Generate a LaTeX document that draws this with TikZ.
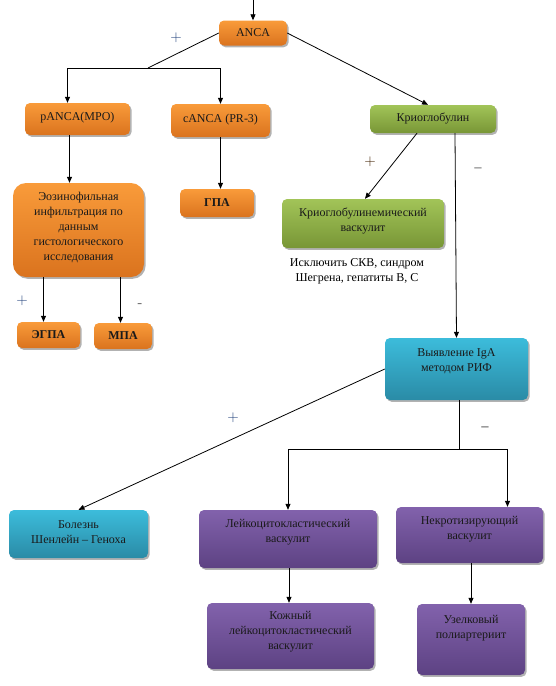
\documentclass[tikz,border=0pt]{standalone}
\usepackage{fontspec}
\setmainfont{Liberation Serif}
\usetikzlibrary{shadows,arrows.meta}
\definecolor{oTop}{HTML}{F99B3A}
\definecolor{oBot}{HTML}{DA731E}
\definecolor{gTop}{HTML}{A2C458}
\definecolor{gBot}{HTML}{789636}
\definecolor{bTop}{HTML}{3CBCDB}
\definecolor{bBot}{HTML}{2A8BA6}
\definecolor{pTop}{HTML}{8262AC}
\definecolor{pBot}{HTML}{5D4283}
\definecolor{signblue}{HTML}{1F3F7A}
\definecolor{txt}{HTML}{1A1A1A}
\tikzset{
  basebox/.style={rounded corners=5pt, inner sep=0pt, draw=none,
    drop shadow={shadow xshift=1.6pt, shadow yshift=-1.8pt, fill=black, opacity=0.3}},
  obox/.style={basebox, top color=oTop, bottom color=oBot},
  gbox/.style={basebox, top color=gTop, bottom color=gBot},
  bbox/.style={basebox, top color=bTop, bottom color=bBot},
  pbox/.style={basebox, top color=pTop, bottom color=pBot},
  lbl/.style={font=\fontsize{12}{15}\selectfont, text=txt, align=center, inner sep=0pt},
  sign/.style={font=\fontfamily{lmss}\fontsize{15}{16}\selectfont, inner sep=0pt},
  conn/.style={line width=0.8pt, black},
  arr/.style={conn, -{Triangle[length=6pt,width=5pt]}}
}
\begin{document}
\begin{tikzpicture}[x=1pt,y=-1pt]
\useasboundingbox (0,0) rectangle (555,686);
% boxes
\node[obox, minimum width=68, minimum height=25] (anca) at (253,33) {};
\node[lbl] (ancat) at (253,33) {ANCA};
\node[obox, minimum width=105, minimum height=32] (panca) at (77.5,119) {};
\node[lbl] (pancat) at (77.5,118) {pANCA(MPO)};
\node[obox, minimum width=99, minimum height=33] (canca) at (220.5,120.5) {};
\node[lbl] (cancat) at (220.5,120) {cANCA (PR-3)};
\node[gbox, minimum width=126, minimum height=28] (krio) at (433,119) {};
\node[lbl] (kriot) at (433,118.5) {Криоглобулин};
\node[gbox, minimum width=162, minimum height=49] (krv) at (363,223.5) {};
\node[lbl] (krvt) at (363,221) {Криоглобулинемический\\васкулит};
\node[lbl, text=black] (note) at (357,271) {Исключить СКВ, синдром\\Шегрена, гепатиты В, С};
\node[obox, rounded corners=13pt, minimum width=131, minimum height=94] (eos) at (78.5,230) {};
\node[lbl] (eost) at (78.5,227) {Эозинофильная\\инфильтрация по\\данным\\гистологического\\исследования};
\node[obox, minimum width=74, minimum height=28] (gpa) at (217,203) {};
\node[lbl] (gpat) at (217,203) {\textbf{ГПА}};
\node[obox, minimum width=63, minimum height=26] (egpa) at (48.5,335) {};
\node[lbl] (egpat) at (48.5,335) {\textbf{ЭГПА}};
\node[obox, minimum width=58, minimum height=26] (mpa) at (123,336) {};
\node[lbl] (mpat) at (123,336) {\textbf{МПА}};
\node[bbox, minimum width=143, minimum height=62] (vyy) at (456.5,369) {};
\node[lbl] (vyyt) at (456.5,361) {Выявление IgA\\методом РИФ};
\node[bbox, minimum width=139, minimum height=48] (bol) at (78.5,534) {};
\node[lbl] (bolt) at (78.5,532) {Болезнь\\Шенлейн -- Геноха};
\node[pbox, minimum width=178, minimum height=58] (lei) at (288,539) {};
\node[lbl] (leit) at (288,532) {Лейкоцитокластический\\васкулит};
\node[pbox, minimum width=147, minimum height=56] (nek) at (469.5,535) {};
\node[lbl] (nekt) at (469.5,529) {Некротизирующий\\васкулит};
\node[pbox, minimum width=167, minimum height=66] (koj) at (290.5,636) {};
\node[lbl] (kojt) at (290.5,632) {Кожный\\лейкоцитокластический\\васкулит};
\node[pbox, minimum width=108, minimum height=71] (uzel) at (471,639.5) {};
\node[lbl] (uzelt) at (471,628) {Узелковый\\полиартериит};
% connectors
\coordinate (top) at (253,0);
\coordinate (j1) at (148,68);
\coordinate (j2) at (459,449);
\draw[arr] (top) -- (anca.north);
\draw[conn] (anca.west) -- (j1);
\draw[arr] (j1) -| ([xshift=-10pt]panca.north);
\draw[arr] (j1) -| (canca.north);
\draw[arr] ([xshift=-8pt]panca.south) -- ([xshift=-8pt]panca.south |- eos.north);
\draw[arr] (canca.south) -- (canca.south |- gpa.north);
\draw[arr] ([xshift=-35pt]eos.south) -- ([xshift=-35pt]eos.south |- egpa.north);
\draw[arr] ([xshift=42pt]eos.south) -- ([xshift=42pt]eos.south |- mpa.north);
\draw[arr] (anca.east) -- ([xshift=-5pt]krio.north);
\draw[arr] ([xshift=-16pt]krio.south) -- ([xshift=2pt]krv.north);
\draw[arr] ([xshift=-1.5pt]vyy.north |- krio.south) -- (vyy.north);
\draw[arr] (vyy.west) -- (bol.north);
\draw[conn] ([xshift=2.5pt]vyy.south) -- (j2);
\draw[arr] (j2) -| (lei.north);
\draw[arr] (j2) -| ([xshift=38pt]nek.north);
\draw[arr] ([xshift=1pt]lei.south) -- ([xshift=1pt]lei.south |- koj.north);
\draw[arr] ([xshift=1.5pt]nek.south) -- ([xshift=1.5pt]nek.south |- uzel.north);
% signs
\node[sign, text=signblue] (s1) at (176,38) {+};
\node[sign, text=black!75!orange] (s2) at (370,162) {+};
\node[sign, text=black!60] (s3) at (478,170) {--};
\node[sign, text=signblue] (s4) at (22,301) {+};
\node[sign, text=black!70] (s5) at (140,306) {-};
\node[sign, text=signblue] (s6) at (233,418) {+};
\node[sign, text=black!70] (s7) at (485,429) {--};
\end{tikzpicture}
\end{document}
